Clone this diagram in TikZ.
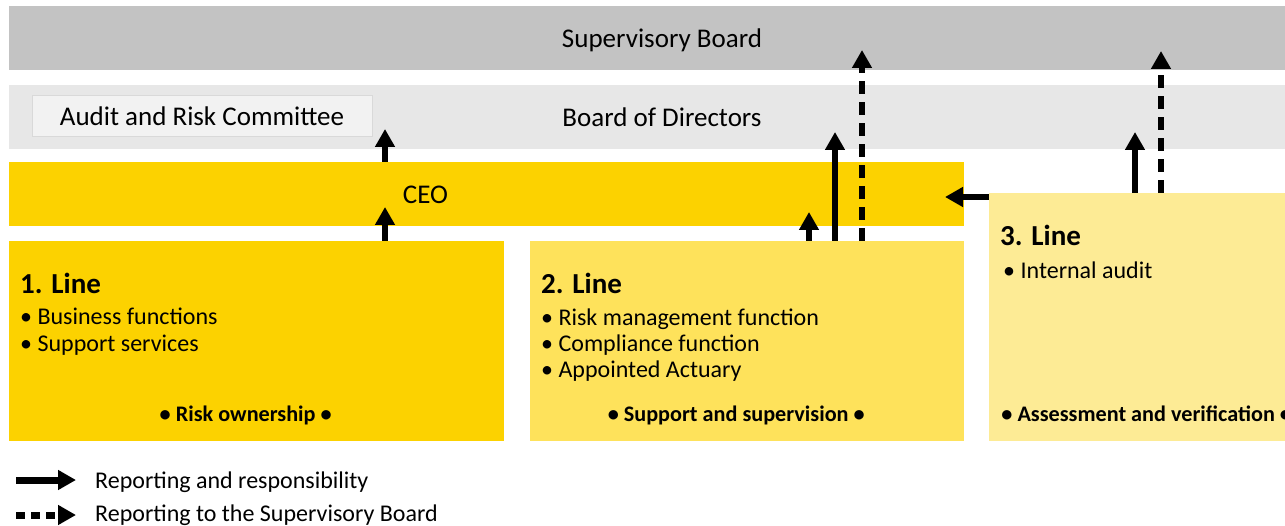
\documentclass[tikz,border=0pt]{standalone}
\usepackage{fontspec}
\setmainfont{Carlito}
\usetikzlibrary{arrows.meta,positioning}
\definecolor{sbgray}{HTML}{C3C3C3}
\definecolor{bdgray}{HTML}{E7E7E7}
\definecolor{arcgray}{HTML}{F2F2F2}
\definecolor{arcline}{HTML}{D9D9D9}
\definecolor{lgold}{HTML}{FCD200}
\definecolor{lyellow}{HTML}{FEE25B}
\definecolor{lpale}{HTML}{FDEB95}

\begin{document}
\begin{tikzpicture}[x=1pt,y=-1pt,
    band/.style={rectangle,inner sep=0pt,text height=19pt,text depth=0pt,font=\fontsize{27}{32}\selectfont},
    linebox/.style={rectangle,inner sep=0pt,anchor=north west},
    ltitle/.style={anchor=base west,inner sep=0pt,font=\fontsize{29}{34}\selectfont\bfseries},
    litems/.style={anchor=base west,inner sep=0pt,align=left,font=\fontsize{24}{26.5}\selectfont},
    lfoot/.style={anchor=base,inner sep=0pt,font=\fontsize{22.2}{28}\selectfont\bfseries},
    legtext/.style={anchor=base west,inner sep=0pt,font=\fontsize{24}{30}\selectfont},
    arr/.style={-{Triangle[length=18pt,width=19pt]},line width=6pt},
    darr/.style={arr,dash pattern=on 13pt off 8pt}]
  \clip (0,0) rectangle (1285,526);

  % boards
  \node[band,fill=sbgray,minimum width=1306pt,minimum height=64pt] (sb) at (662,38) {Supervisory Board};
  \node[band,fill=bdgray,minimum width=1306pt,minimum height=64pt] (bod) at (662,117) {Board of Directors};
  \node[band,fill=arcgray,draw=arcline,line width=1pt,minimum width=340pt,minimum height=41pt] (arc) at (202,116.5)
    {Audit and Risk Committee};
  \node[band,fill=lgold,minimum width=955pt,minimum height=64pt,
    label={[band,xshift=-61pt]center:CEO}] (ceo) at (486.5,194) {};

  % the three lines
  \node[linebox,fill=lgold,minimum width=495pt,minimum height=200pt] (line1) at (9,241) {};
  \node[linebox,fill=lyellow,minimum width=434pt,minimum height=200pt] (line2) at (530,241) {};
  \node[linebox,fill=lpale,minimum width=350pt,minimum height=248pt] (line3) at (989,193) {};

  \node[ltitle] (t1) at ([xshift=11pt,yshift=-53pt]line1.north west) {1. Line};
  \node[ltitle] (t2) at ([xshift=11pt,yshift=-53pt]line2.north west) {2. Line};
  \node[ltitle] (t3) at ([xshift=11pt,yshift=-53pt]line3.north west) {3. Line};

  % base of a list is its last line
  \node[litems] (i1) at ([yshift=-57.5pt]t1.base west) {• Business functions\\• Support services};
  \node[litems] (i2) at ([yshift=-84pt]t2.base west) {• Risk management function\\• Compliance function\\• Appointed Actuary};
  \node[litems] (i3) at ([xshift=3pt,yshift=-33pt]t3.base west) {• Internal audit};

  \node[lfoot] (f1) at ([xshift=-11pt,yshift=20pt]line1.south) {• Risk ownership •};
  \node[lfoot] (f2) at ([xshift=-11pt,yshift=20pt]line2.south) {• Support and supervision •};
  \node[lfoot] (f3) at ([xshift=-18pt,yshift=20pt]line3.south) {• Assessment and verification •};

  % reporting arrows
  \coordinate (up1) at (385,207);
  \coordinate (up2) at (385,129);
  \coordinate (up3) at (809,212);
  \coordinate (up4) at (835,132);
  \coordinate (up5) at (862,50);
  \coordinate (up6) at (1135,132);
  \coordinate (up7) at (1161,51);
  \coordinate (left1) at (945,197);
  \draw[arr] (line1.north -| up1) -- (up1);
  \draw[arr] (ceo.north -| up2) -- (up2);
  \draw[arr] (line2.north -| up3) -- (up3);
  \draw[arr] (line2.north -| up4) -- (up4);
  \draw[darr] (line2.north -| up5) -- (up5);
  \draw[arr] (line3.north -| up6) -- (up6);
  \draw[darr] (line3.north -| up7) -- (up7);
  \draw[arr] (line3.west |- left1) -- (left1);

  % legend
  \coordinate (k1) at (16,480);
  \coordinate (k1e) at (76,480);
  \coordinate (k2) at (16,515);
  \coordinate (k2e) at (76,515);
  \draw[arr,line width=7pt] (k1) -- (k1e);
  \draw[arr,line width=7pt,dash pattern=on 9pt off 6pt] (k2) -- (k2e);
  \node[legtext] (leg1) at (95,488) {Reporting and responsibility};
  \node[legtext] (leg2) at (95,521.5) {Reporting to the Supervisory Board};
\end{tikzpicture}
\end{document}
